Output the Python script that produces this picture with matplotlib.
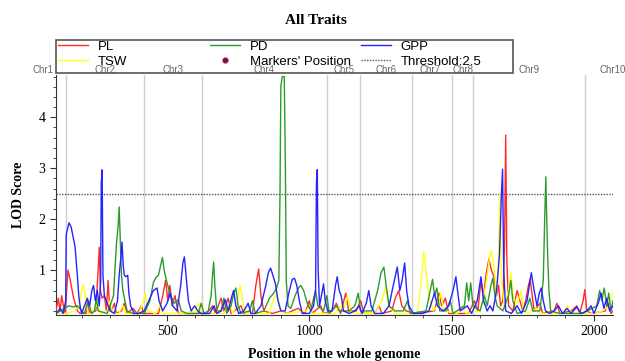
import numpy as np
import matplotlib
matplotlib.use("Agg")
import matplotlib.pyplot as plt
from matplotlib.lines import Line2D
from matplotlib.patches import Rectangle
from matplotlib.ticker import MultipleLocator
import matplotlib.transforms as mtransforms

# LOD profiles (position, LOD)
pl_pos = [110, 118, 124, 130, 136, 142, 152, 160, 172, 185, 195, 215, 222, 228, 250, 258, 262, 266, 272, 280,
          287, 293, 298, 305, 315, 322, 340, 350, 360, 380, 395, 410, 418, 470, 485, 495, 503, 510, 518, 528,
          540, 570, 640, 660, 670, 690, 700, 715, 725, 760, 770, 800, 812, 822, 830, 840, 870, 900, 920, 960,
          985, 1000, 1010, 1040, 1050, 1080, 1095, 1110, 1128, 1138, 1165, 1180, 1192, 1230, 1245, 1255, 1290,
          1302, 1314, 1325, 1340, 1370, 1440, 1455, 1465, 1478, 1490, 1560, 1580, 1592, 1603, 1612, 1622, 1631,
          1640, 1650, 1658, 1665, 1672, 1680, 1686, 1690, 1694, 1700, 1715, 1730, 1740, 1750, 1760, 1770, 1776,
          1783, 1790, 1810, 1820, 1860, 1870, 1880, 1920, 1940, 1950, 1962, 1968, 1975, 1990, 2040, 2050, 2060, 2067]
pl_lod = [0.2, 0.45, 0.2, 0.5, 0.3, 0.15, 1.0, 0.8, 0.45, 0.2, 0.15, 0.15, 0.4, 0.15, 0.2, 1.0, 1.45, 0.6, 0.45, 0.5,
          0.2, 0.8, 0.3, 0.2, 0.35, 0.15, 0.2, 0.35, 0.15, 0.25, 0.15, 0.3, 0.15, 0.15, 0.5, 0.8, 0.4, 0.7, 0.3, 0.5,
          0.15, 0.15, 0.15, 0.3, 0.15, 0.45, 0.2, 0.45, 0.15, 0.3, 0.15, 0.15, 0.7, 1.02, 0.5, 0.2, 0.15, 0.2, 0.15, 0.25,
          0.15, 0.4, 0.15, 0.3, 0.15, 0.2, 0.35, 0.15, 0.55, 0.2, 0.2, 0.4, 0.15, 0.15, 0.3, 0.15, 0.2,
          0.45, 0.6, 0.3, 0.2, 0.15, 0.2, 0.55, 0.3, 0.45, 0.15, 0.15, 0.4, 0.2, 0.8, 0.5, 0.95, 1.22,
          1.0, 0.85, 0.5, 0.7, 0.3, 0.4, 1.5, 3.65, 1.2, 0.3, 0.2, 0.6, 0.4, 0.2, 0.4, 0.7, 0.83,
          0.5, 0.2, 0.35, 0.15, 0.2, 0.35, 0.15, 0.2, 0.3, 0.15, 0.4, 0.62, 0.2, 0.15, 0.2, 0.35, 0.15, 0.2]

tsw_pos = [110, 150, 175, 190, 200, 206, 212, 222, 240, 255, 265, 290, 300, 310, 330, 345, 355, 400, 415, 424,
           432, 460, 475, 485, 560, 590, 600, 605, 612, 620, 700, 720, 730, 745, 752, 758, 765, 775, 860, 870,
           880, 890, 900, 915, 990, 1000, 1010, 1090, 1110, 1120, 1134, 1145, 1160, 1230, 1255, 1268, 1280, 1300,
           1380, 1392, 1402, 1410, 1420, 1435, 1450, 1462, 1472, 1520, 1540, 1550, 1600, 1620, 1632, 1640, 1650,
           1658, 1664, 1670, 1675, 1685, 1700, 1708, 1716, 1730, 1743, 1752, 1770, 1800, 1810, 1890, 1908, 1920,
           2000, 2030, 2055, 2066]
tsw_lod = [0.15, 0.15, 0.2, 0.3, 0.6, 0.72, 0.5, 0.15, 0.15, 0.35, 0.15, 0.2, 0.4, 0.15, 0.15, 0.3, 0.15, 0.15, 0.35, 0.55,
           0.2, 0.15, 0.3, 0.15, 0.15, 0.2, 0.15, 0.3, 0.35, 0.15, 0.15, 0.35, 0.15, 0.3, 0.6, 0.7, 0.4, 0.15, 0.15, 0.35,
           0.5, 0.45, 0.2, 0.15, 0.2, 0.3, 0.15, 0.15, 0.3, 0.2, 0.5, 0.2, 0.15, 0.15, 0.4, 0.67, 0.3, 0.15,
           0.15, 0.7, 1.36, 1.0, 0.5, 0.2, 0.3, 0.55, 0.2, 0.15, 0.3, 0.15, 0.2, 0.7, 1.2, 1.39, 1.0,
           0.5, 1.2, 2.5, 0.8, 0.3, 0.6, 0.95, 0.5, 0.3, 0.6, 0.2, 0.15, 0.25, 0.15, 0.15, 0.3, 0.15,
           0.15, 0.2, 0.3, 0.55]

pd_pos = [110, 125, 140, 155, 170, 185, 200, 210, 220, 228, 235, 245, 252, 258, 290, 300, 312, 322, 328, 332,
          336, 340, 345, 352, 360, 380, 420, 440, 452, 460, 470, 478, 484, 490, 498, 510, 525, 540, 550, 570,
          610, 620, 630, 645, 655, 660, 664, 668, 675, 690, 700, 710, 725, 735, 742, 750, 760, 790, 800, 810,
          840, 860, 875, 885, 893, 897, 900, 905, 912, 916, 919, 925, 935, 950, 962, 970, 980, 993, 1005, 1015,
          1022, 1030, 1050, 1062, 1070, 1095, 1105, 1140, 1160, 1172, 1180, 1220, 1240, 1252, 1262, 1270, 1280,
          1300, 1330, 1345, 1355, 1410, 1425, 1433, 1440, 1448, 1458, 1480, 1495, 1505, 1545, 1553, 1560, 1567,
          1575, 1600, 1615, 1625, 1638, 1645, 1652, 1660, 1680, 1700, 1708, 1715, 1730, 1760, 1775, 1785, 1810,
          1822, 1827, 1831, 1835, 1838, 1842, 1848, 1880, 1960, 2010, 2020, 2028, 2036, 2045, 2052, 2060, 2067]
pd_lod = [0.15, 0.2, 0.25, 0.3, 0.28, 0.3, 0.2, 0.15, 0.35, 0.3, 0.15, 0.2, 0.45, 0.2, 0.15, 0.3, 0.5, 1.5, 1.85, 2.24,
          1.6, 0.9, 0.6, 0.4, 0.2, 0.15, 0.15, 0.4, 0.75, 0.85, 0.9, 1.1, 1.25, 1.0, 0.8, 0.55, 0.35, 0.42, 0.2, 0.15,
          0.15, 0.35, 0.15, 0.2, 0.5, 0.9, 1.16, 0.7, 0.2, 0.2, 0.45, 0.15, 0.3, 0.55, 0.65, 0.3, 0.15, 0.2, 0.4, 0.15,
          0.2, 0.45, 0.55, 0.65, 0.8, 2.5, 4.6, 4.8, 4.8, 3.0, 0.8, 0.3, 0.25, 0.5, 0.65, 0.7, 0.6, 0.35, 0.2, 0.45,
          0.6, 0.3, 0.2, 0.5, 0.15, 0.3, 0.2, 0.2, 0.3, 0.55, 0.2, 0.2, 0.6, 0.95, 1.06, 0.7, 0.3,
          0.2, 0.2, 0.4, 0.15, 0.2, 0.6, 0.82, 0.5, 0.65, 0.2, 0.2, 0.4, 0.15, 0.3, 0.75, 0.4, 0.75,
          0.3, 0.2, 0.5, 0.3, 0.7, 0.85, 0.5, 0.3, 0.2, 0.5, 0.8, 0.4, 0.15, 0.2, 0.45, 0.2, 0.2,
          0.8, 2.0, 2.83, 1.8, 1.2, 0.6, 0.2, 0.15, 0.15, 0.3, 0.6, 0.4, 0.65, 0.3, 0.55, 0.2, 0.4]

gpp_pos = [110, 125, 135, 144, 146, 150, 156, 163, 170, 177, 185, 190, 195, 200, 210, 220, 228, 236, 242, 248,
           255, 262, 267, 269, 272, 275, 280, 290, 300, 315, 326, 332, 338, 342, 346, 350, 356, 362, 366, 372,
           385, 400, 420, 440, 452, 465, 472, 485, 500, 512, 520, 535, 548, 556, 561, 567, 575, 585, 597, 608,
           620, 650, 665, 675, 690, 705, 715, 726, 734, 742, 752, 770, 785, 795, 810, 830, 846, 856, 864, 872,
           881, 890, 900, 915, 930, 940, 948, 956, 965, 975, 1000, 1015, 1022, 1025, 1028, 1031, 1036, 1044, 1050,
           1056, 1065, 1080, 1092, 1098, 1105, 1112, 1120, 1140, 1160, 1175, 1185, 1200, 1209, 1217, 1230, 1260,
           1280, 1295, 1309, 1318, 1326, 1335, 1342, 1350, 1365, 1400, 1420, 1440, 1450, 1470, 1490, 1505, 1515,
           1523, 1530, 1555, 1570, 1590, 1603, 1612, 1625, 1635, 1645, 1658, 1668, 1675, 1679, 1683, 1690, 1710,
           1730, 1745, 1765, 1780, 1790, 1800, 1808, 1815, 1822, 1830, 1845, 1860, 1875, 1890, 1905, 1920, 1940,
           1955, 1975, 1990, 2000, 2015, 2025, 2035, 2045, 2055, 2067]
gpp_lod = [0.15, 0.25, 0.15, 0.4, 1.7, 1.8, 1.93, 1.85, 1.65, 1.46, 0.9, 0.5, 0.28, 0.15, 0.3, 0.45, 0.3, 0.6, 0.7, 0.4,
           0.6, 0.3, 0.8, 2.7, 2.97, 0.9, 0.5, 0.35, 0.2, 0.15, 0.4, 0.9, 1.26, 1.55, 1.1, 0.9, 0.87, 0.9, 0.55, 0.3,
           0.15, 0.15, 0.2, 0.45, 0.6, 0.65, 0.4, 0.2, 0.35, 0.55, 0.3, 0.2, 0.7, 1.15, 1.26, 0.9, 0.4, 0.2, 0.3, 0.2,
           0.15, 0.15, 0.3, 0.15, 0.2, 0.42, 0.2, 0.45, 0.6, 0.3, 0.15, 0.2, 0.35, 0.15, 0.15, 0.3, 0.67, 0.95, 1.04, 0.9,
           0.73, 0.4, 0.2, 0.2, 0.6, 0.82, 0.84, 0.7, 0.4, 0.15, 0.15, 0.3, 0.6, 2.7, 2.97, 1.0, 0.3, 0.55, 0.73,
           0.4, 0.2, 0.2, 0.7, 0.87, 0.6, 0.5, 0.2, 0.15, 0.2, 0.3, 0.15, 0.35, 0.6, 0.3, 0.15, 0.15,
           0.3, 0.7, 1.06, 0.6, 0.8, 1.14, 0.6, 0.3, 0.15, 0.15, 0.2, 0.55, 0.3, 0.2, 0.3, 0.6, 0.87,
           0.5, 0.2, 0.3, 0.15, 0.4, 0.87, 0.4, 0.2, 0.3, 0.2, 0.6, 1.3, 2.5, 2.98, 1.0, 0.2, 0.15,
           0.3, 0.15, 0.4, 0.95, 0.6, 0.3, 0.55, 0.65, 0.4, 0.2, 0.15, 0.2, 0.3, 0.15, 0.25, 0.15, 0.28,
           0.15, 0.2, 0.3, 0.15, 0.35, 0.55, 0.25, 0.45, 0.2, 0.3]

chr_bounds = [146, 420, 624, 1063, 1177, 1362, 1500, 1574, 1968]
chr_names = ["Chr1", "Chr2", "Chr3", "Chr4", "Chr5", "Chr6", "Chr7", "Chr8", "Chr9", "Chr10"]
chr_label_pos = [65, 283, 522, 840, 1121, 1268, 1423, 1539, 1771, 2066]
threshold = 2.5

serif = "Liberation Serif"
sans = "Liberation Sans"
c_pl, c_tsw, c_pd, c_gpp = "#ff2a2a", "#ffff1a", "#2e9a2e", "#2424ff"

W, H = 625, 361
fig = plt.figure(figsize=(W/100, H/100), dpi=100)
ax = fig.add_axes([56/W, 1-315/H, (613-56)/W, (315-75)/H])

for b in chr_bounds:
    ax.axvline(b, color="#cfcfcf", lw=1, zorder=1)

ax.plot(pl_pos, pl_lod, color=c_pl, lw=1, zorder=3)
ax.plot(tsw_pos, tsw_lod, color=c_tsw, lw=1, zorder=3)
ax.plot(pd_pos, pd_lod, color=c_pd, lw=1, zorder=3)
ax.plot(gpp_pos, gpp_lod, color=c_gpp, lw=1, zorder=4)
ax.axhline(threshold, color="#555555", lw=1, ls=(0, (1, 1)), zorder=2)

ax.set_xlim(110, 2067)
ax.set_ylim(0.12, 4.83)
ax.xaxis.set_major_locator(MultipleLocator(500))
ax.xaxis.set_minor_locator(MultipleLocator(100))
ax.yaxis.set_major_locator(MultipleLocator(1))
ax.yaxis.set_minor_locator(MultipleLocator(0.2))
ax.tick_params(which="major", length=4, width=0.8, labelsize=10, color="#333333")
ax.tick_params(which="minor", length=2, width=0.6, color="#333333")
for lab in ax.get_xticklabels() + ax.get_yticklabels():
    lab.set_fontfamily(serif)
for s in ["top", "right"]:
    ax.spines[s].set_visible(False)
for s in ["left", "bottom"]:
    ax.spines[s].set_color("#333333")
    ax.spines[s].set_linewidth(0.8)

ax.set_xlabel("Position in the whole genome", fontfamily=serif, fontweight="bold", fontsize=10, labelpad=7)
ax.set_ylabel("LOD Score", fontfamily=serif, fontweight="bold", fontsize=10, labelpad=10)
fig.text(0.505, 1-20/H, "All Traits", ha="center", va="center",
         fontfamily=serif, fontweight="bold", fontsize=11)

trans = mtransforms.blended_transform_factory(ax.transData, ax.transAxes)
for name, p in zip(chr_names, chr_label_pos):
    ax.text(p, 1.02, name, transform=trans, ha="center", va="center",
            fontfamily=sans, fontsize=7, color="#666666", clip_on=False)

# legend: one box, three columns of two entries
fig.add_artist(Rectangle((56/W, 1-73/H), (513-56)/W, 33/H, transform=fig.transFigure,
                         fill=False, edgecolor="#555555", lw=1.2, zorder=10))
columns = [
    ([Line2D([], [], color=c_pl, lw=1), Line2D([], [], color=c_tsw, lw=1)], ["PL", "TSW"], 58),
    ([Line2D([], [], color=c_pd, lw=1),
      Line2D([], [], ls="none", marker="o", markersize=3.5, markerfacecolor="#3a1a7a", markeredgecolor="#c0103a")],
     ["PD", "Markers' Position"], 210),
    ([Line2D([], [], color=c_gpp, lw=1), Line2D([], [], color="#555555", lw=1, ls=(0, (1, 1)))],
     ["GPP", "Threshold:2.5"], 361),
]
for hs, ls, xpx in columns:
    lg = fig.legend(hs, ls, loc="upper left", bbox_to_anchor=(xpx/W, 1-40.5/H),
                    prop={"family": sans, "size": 9.5}, frameon=False,
                    borderpad=0.0, labelspacing=0.22, handlelength=2.3,
                    handletextpad=0.7, borderaxespad=0)
    lg.set_zorder(10)

fig.savefig("out.png", dpi=100)
